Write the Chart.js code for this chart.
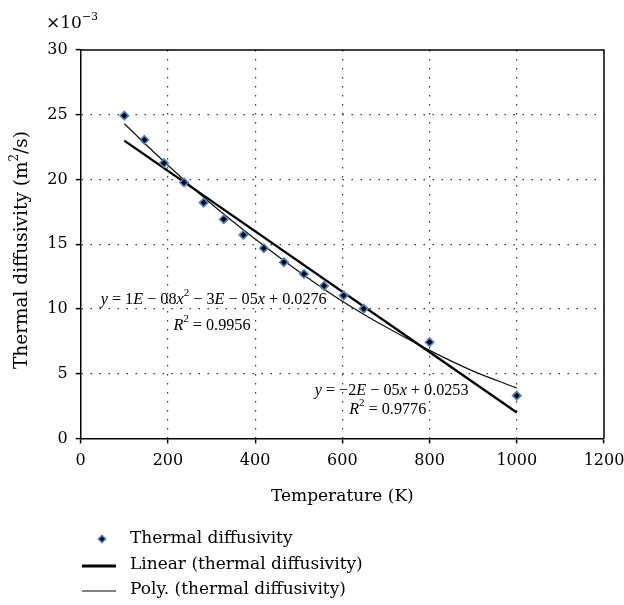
<!DOCTYPE html>
<html>
<head>
<meta charset="utf-8">
<script src="https://cdn.jsdelivr.net/npm/chart.js@4.4.0/dist/chart.umd.min.js"></script>
<style>
  html, body { margin: 0; padding: 0; background: #fff; }
</style>
</head>
<body>
<canvas id="thermalChart" width="624" height="605"></canvas>
<script>
// Measured points (x in K, y in 10^-3 m^2/s)
const temps = [100, 146, 191, 237, 282, 328, 373, 420, 466, 512, 558, 603, 649, 800, 1000];
const diffusivity = [24.93, 23.06, 21.27, 19.77, 18.21, 16.93, 15.72, 14.69, 13.61, 12.70, 11.78, 11.03, 10.02, 7.43, 3.30];

// Linear trendline, end points
const linearX = [100, 1000];
const linearY = [23.0, 2.0];

// Polynomial trendline, every 100 K
const polyX = [100, 200, 300, 400, 500, 600, 700, 800, 900, 1000];
const polyY = [24.3, 21.1, 18.1, 15.4, 12.9, 10.6, 8.6, 6.8, 5.2, 3.9];

const xTicks = [0, 200, 400, 600, 800, 1000, 1200];
const yTicks = [0, 5, 10, 15, 20, 25, 30];

const seriesLabels = ['Thermal diffusivity', 'Linear (thermal diffusivity)', 'Poly. (thermal diffusivity)'];

const FONT = '"DejaVu Serif", "Liberation Serif", serif';
const EQFONT = '"Liberation Serif", "DejaVu Serif", serif';

function pairs(xs, ys) {
    return xs.map((x, i) => ({ x: x, y: ys[i] }));
}

// equation text: segments with italic / superscript flags
const eqPoly = [
    { t: 'y', it: true }, { t: ' = 1' }, { t: 'E', it: true }, { t: ' \u2212 08' }, { t: 'x', it: true },
    { t: '2', sup: true }, { t: ' \u2212 3' }, { t: 'E', it: true }, { t: ' \u2212 05' }, { t: 'x', it: true },
    { t: ' + 0.0276' }
];
const eqPolyR = [{ t: 'R', it: true }, { t: '2', sup: true }, { t: ' = 0.9956' }];
const eqLin = [
    { t: 'y', it: true }, { t: ' = \u22122' }, { t: 'E', it: true }, { t: ' \u2212 05' }, { t: 'x', it: true },
    { t: ' + 0.0253' }
];
const eqLinR = [{ t: 'R', it: true }, { t: '2', sup: true }, { t: ' = 0.9776' }];

// where each equation is centred, in data units
const notes = [
    { segs: eqPoly, x: 305, y: 10.7 },
    { segs: eqPolyR, x: 301, y: 8.7 },
    { segs: eqLin, x: 713, y: 3.7 },
    { segs: eqLinR, x: 704, y: 2.2 }
];

function drawRich(ctx, segs, cx, cy, size, align, family) {
    const fam = family || FONT;
    const fontOf = (s) => (s.it ? 'italic ' : '') + (s.sup ? Math.round(size * 0.65) : size) + 'px ' + fam;
    let w = 0;
    segs.forEach(s => { ctx.font = fontOf(s); w += ctx.measureText(s.t).width; });
    let x = align === 'left' ? cx : cx - w / 2;
    ctx.textBaseline = 'middle';
    ctx.textAlign = 'left';
    segs.forEach(s => {
        ctx.font = fontOf(s);
        ctx.fillText(s.t, x, s.sup ? cy - size * 0.4 : cy);
        x += ctx.measureText(s.t).width;
    });
}

const extras = {
    id: 'extras',
    afterDraw(chart) {
        const ctx = chart.ctx;
        const area = chart.chartArea;
        const xs = chart.scales.x, ys = chart.scales.y;
        ctx.save();
        ctx.fillStyle = '#000';

        // frame top and right
        ctx.strokeStyle = '#000';
        ctx.lineWidth = 1.5;
        ctx.beginPath();
        ctx.moveTo(area.left, area.top);
        ctx.lineTo(area.right, area.top);
        ctx.lineTo(area.right, area.bottom);
        ctx.stroke();

        // exponent
        drawRich(ctx, [{ t: '\u00d710' }, { t: '\u22123', sup: true }], 46, 24, 17, 'left');

        // axis titles
        ctx.font = '17px ' + FONT;
        ctx.textAlign = 'center';
        ctx.textBaseline = 'middle';
        ctx.fillText('Temperature (K)', (area.left + area.right) / 2, 497);
        ctx.save();
        ctx.translate(22, 250);
        ctx.rotate(-Math.PI / 2);
        drawRich(ctx, [{ t: 'Thermal diffusivity (m' }, { t: '2', sup: true }, { t: '/s)' }], 0, 0, 18.5, 'center');
        ctx.restore();

        // equations
        notes.forEach(n => drawRich(ctx, n.segs, xs.getPixelForValue(n.x), ys.getPixelForValue(n.y), 16.2, 'center', EQFONT));

        // legend
        const rows = [539, 565, 590];
        const ds = chart.data.datasets;
        const legendLine = ['', '#000', '#555'];
        ctx.font = '17px ' + FONT;
        ctx.textAlign = 'left';
        ctx.textBaseline = 'middle';
        rows.forEach((ry, i) => {
            const d = ds[i];
            if (i === 0) {
                ctx.save();
                ctx.translate(102, ry);
                ctx.rotate(Math.PI / 4);
                ctx.fillStyle = d.pointBackgroundColor;
                ctx.strokeStyle = d.pointBorderColor;
                ctx.lineWidth = 1.5;
                ctx.fillRect(-2.6, -2.6, 5.2, 5.2);
                ctx.strokeRect(-2.6, -2.6, 5.2, 5.2);
                ctx.restore();
            } else {
                ctx.strokeStyle = legendLine[i];
                ctx.lineWidth = d.borderWidth + 0.4;
                ctx.beginPath();
                ctx.moveTo(82, ry + 1);
                ctx.lineTo(116, ry + 1);
                ctx.stroke();
            }
            ctx.fillStyle = '#000';
            ctx.fillText(d.label, 130, ry);
        });
        ctx.restore();
    }
};

const ctx = document.getElementById('thermalChart').getContext('2d');

const chart = new Chart(ctx, {
    type: 'scatter',
    data: {
        datasets: [
            {
                label: seriesLabels[0],
                data: pairs(temps, diffusivity),
                showLine: false,
                pointStyle: 'rectRot',
                pointRadius: 4.2,
                pointBackgroundColor: '#000',
                pointBorderColor: '#4f86c6',
                pointBorderWidth: 1.6
            },
            {
                label: seriesLabels[1],
                data: pairs(linearX, linearY),
                showLine: true,
                borderColor: '#000',
                borderWidth: 2.4,
                pointRadius: 0
            },
            {
                label: seriesLabels[2],
                data: pairs(polyX, polyY),
                showLine: true,
                borderColor: '#111',
                borderWidth: 1.2,
                pointRadius: 0,
                cubicInterpolationMode: 'monotone'
            }
        ]
    },
    options: {
        responsive: false,
        animation: false,
        devicePixelRatio: 1,
        layout: { padding: { top: 50, right: 0, left: 0, bottom: 0 } },
        scales: {
            x: {
                type: 'linear',
                min: 0,
                max: 1200,
                afterBuildTicks: (s) => { s.ticks = xTicks.map(v => ({ value: v })); },
                afterFit: (s) => { s.height = 166.6; s.paddingRight = 20; s.paddingLeft = 0; },
                ticks: { color: '#000', font: { family: FONT, size: 16 }, padding: 8, maxRotation: 0, callback: (v) => String(v) },
                grid: {
                    color: (c) => (c.tick && c.tick.value > 0 && c.tick.value < 1200) ? '#333' : 'rgba(0,0,0,0)',
                    lineWidth: 1.2,
                    tickLength: 5,
                    tickColor: '#000',
                    tickWidth: 1.5
                },
                border: { display: true, color: '#000', width: 1.5, dash: [1.5, 7.5] }
            },
            y: {
                type: 'linear',
                min: 0,
                max: 30,
                afterBuildTicks: (s) => { s.ticks = yTicks.map(v => ({ value: v })); },
                afterFit: (s) => { s.width = 80.7; },
                ticks: { color: '#000', font: { family: FONT, size: 16 }, padding: 8 },
                grid: {
                    color: (c) => (c.tick && c.tick.value > 0 && c.tick.value < 30) ? '#333' : 'rgba(0,0,0,0)',
                    lineWidth: 1.2,
                    tickLength: 5,
                    tickColor: '#000',
                    tickWidth: 1.5
                },
                border: { display: true, color: '#000', width: 1.5, dash: [1.5, 7.5] }
            }
        },
        plugins: {
            legend: { display: false },
            tooltip: { enabled: false }
        }
    },
    plugins: [extras]
});
</script>
</body>
</html>
